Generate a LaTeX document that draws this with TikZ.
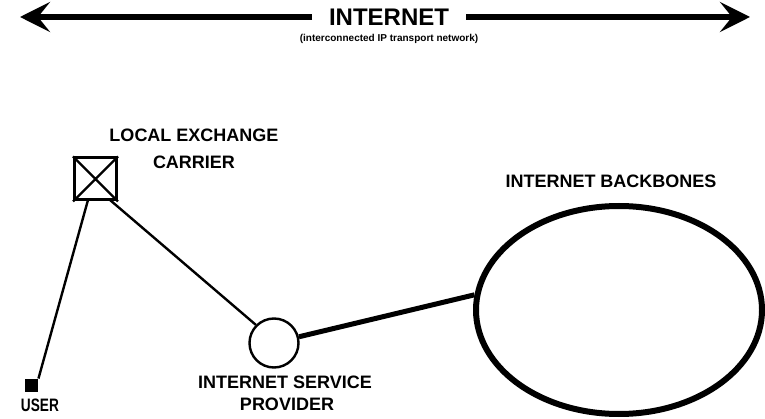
\documentclass[tikz,border=0pt]{standalone}
\usepackage{fontspec}
\usepackage{graphicx}
\setmainfont{Liberation Sans}
\usetikzlibrary{arrows.meta,shapes.geometric}
\begin{document}
\begin{tikzpicture}[x=1pt,y=-1pt,
  lbl/.style={font=\fontsize{18}{20}\selectfont\bfseries,inner sep=0pt,anchor=base},
  thin/.style={line width=2.4pt},
  heavy/.style={line width=6pt},
  bigtip/.style={-{Stealth[length=30pt,width=30pt,inset=12pt]}}]
\useasboundingbox (0,0) rectangle (765,419);
% top arrow
\node[font=\fontsize{24}{26}\selectfont\bfseries,inner sep=0pt] (inet) at (389,17) {INTERNET};
\node[font=\fontsize{10}{12}\selectfont\bfseries,inner sep=0pt,anchor=base] (inetsub) at (389,42) {(interconnected IP transport network)};
\coordinate (aL) at (20,17);
\coordinate (aR) at (750,17);
\coordinate (gL) at (312,17);
\coordinate (gR) at (466,17);
\draw[heavy,bigtip] (gL) -- (aL);
\draw[heavy,bigtip] (gR) -- (aR);
% local exchange carrier
\node[draw,line width=3pt,minimum size=42pt,inner sep=0pt] (lec) at (95.5,179) {};
\draw[line width=2.2pt] (lec.north west) -- (lec.south east) (lec.north east) -- (lec.south west);
\node[lbl] (leclbl1) at (194,142) {LOCAL EXCHANGE};
\node[lbl] (leclbl2) at (194,169) {CARRIER};
% user
\node[fill,minimum size=13.5pt,inner sep=0pt] (user) at (31.5,385.5) {};
\node[lbl] (userlbl) at (40,411) {\scalebox{0.76}[1]{USER}};
% ISP
\node[draw,thin,circle,minimum size=49pt,inner sep=0pt] (isp) at (274,343) {};
\node[lbl] (isplbl1) at (285,388) {INTERNET SERVICE};
\node[lbl] (isplbl2) at (287,410) {PROVIDER};
% backbones
\node[draw,line width=6pt,ellipse,minimum width=286pt,minimum height=208pt,inner sep=0pt] (bb) at (619,310) {};
\node[lbl] (bblbl) at (611,188) {INTERNET BACKBONES};
% connectors
\coordinate (lecA) at (88,200);
\coordinate (lecB) at (110,200);
\draw[thin] (lecA) -- (user.north east);
\draw[thin] (lecB) -- (isp.north west);
\draw[line width=5pt] (isp.14) -- (bb.174);
\end{tikzpicture}
\end{document}
